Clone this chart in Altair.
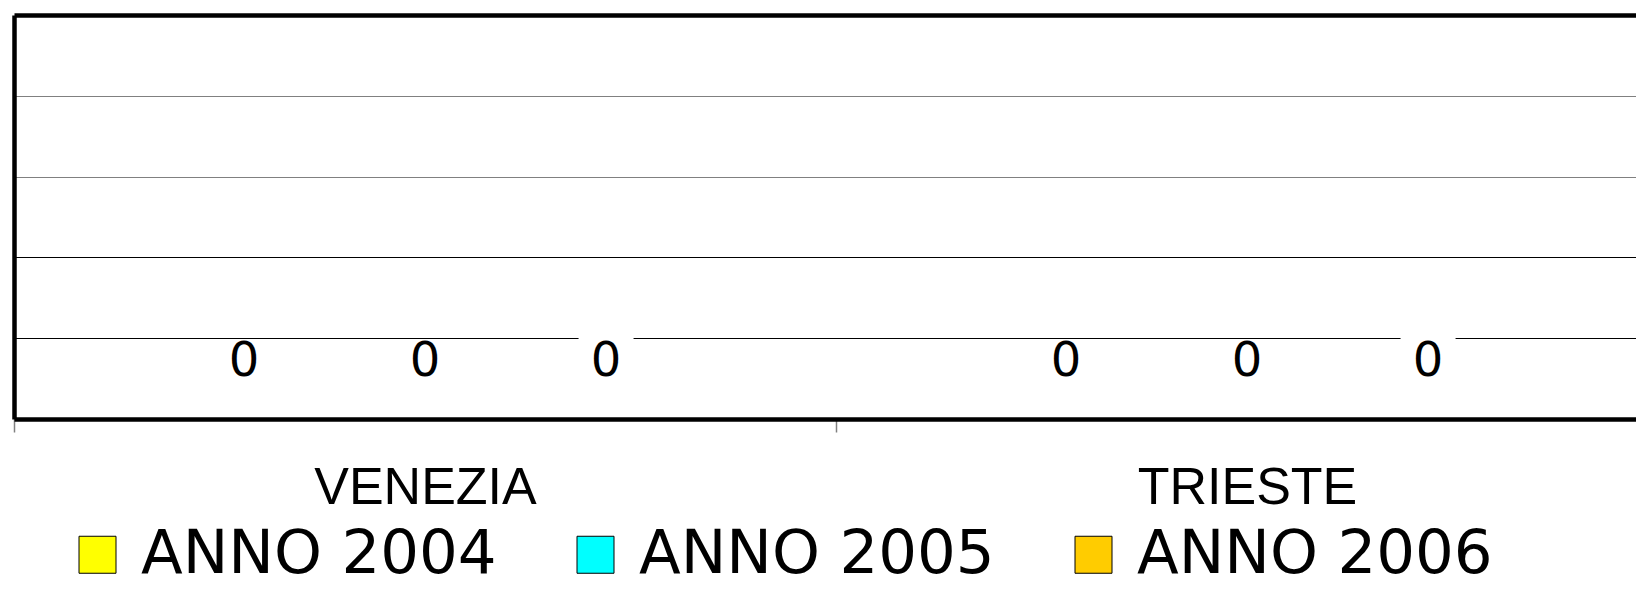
import altair as alt
import pandas as pd

cities = ["VENEZIA", "TRIESTE"]
series = ["ANNO 2004", "ANNO 2005", "ANNO 2006"]
values_venezia = [0, 0, 0]
values_trieste = [0, 0, 0]
colors = ["#FFFF00", "#00FFFF", "#FFCC00"]
y_ticks = [-1, 0, 1, 2, 3, 4]

rows = []
for city, vals in zip(cities, [values_venezia, values_trieste]):
    for s, v in zip(series, vals):
        rows.append({"city": city, "series": s, "value": v})
df = pd.DataFrame(rows)

x_enc = alt.X(
    "city:N",
    sort=cities,
    scale=alt.Scale(range=[0, 1644], paddingInner=0, paddingOuter=0),
    axis=alt.Axis(
        title=None,
        labelAngle=0,
        labelFont="Liberation Sans",
        labelFontSize=52,
        labelColor="#000000",
        labelPadding=30,
        labelLimit=1000,
        tickBand="extent",
        tickSize=13,
        tickColor="#808080",
        tickWidth=1.5,
        domainColor="#000000",
        domainWidth=4.5,
        grid=False,
    ),
)
xoff_enc = alt.XOffset(
    "series:N", sort=series, scale=alt.Scale(paddingOuter=0.77, paddingInner=0)
)
y_enc = alt.Y(
    "value:Q",
    scale=alt.Scale(domain=[-1, 4], nice=False, zero=False),
    axis=alt.Axis(
        title=None,
        values=y_ticks,
        labels=False,
        ticks=False,
        domainColor="#000000",
        domainWidth=4.5,
        grid=True,
        gridColor={
            "condition": {"test": "datum.value >= 2 && datum.value < 4", "value": "#808080"},
            "value": "#000000",
        },
        gridWidth={
            "condition": {"test": "datum.value >= 4", "value": 4.5},
            "value": 1,
        },
    ),
)

bars = alt.Chart(df).mark_bar().encode(
    x=x_enc,
    xOffset=xoff_enc,
    y=y_enc,
    color=alt.Color(
        "series:N",
        sort=series,
        scale=alt.Scale(domain=series, range=colors),
        legend=alt.Legend(
            title=None,
            orient="none",
            direction="horizontal",
            legendX=53,
            legendY=509,
            padding=0,
            labelFont="DejaVu Sans",
            labelFontSize=61,
            labelColor="#000000",
            labelLimit=1000,
            labelOffset=13,
            columnPadding=68,
            symbolType="square",
            symbolSize=1369,
            symbolStrokeColor="#000000",
            symbolStrokeWidth=1,
            symbolOpacity=1,
        ),
    ),
)

mask = (
    alt.Chart(df)
    .transform_filter(alt.datum.series == "ANNO 2006")
    .mark_tick(color="#FFFFFF", size=55, thickness=4, opacity=1)
    .encode(x=alt.X("city:N", sort=cities), xOffset=alt.XOffset("series:N", sort=series), y="value:Q")
)

labels = (
    alt.Chart(df)
    .mark_text(font="DejaVu Sans", fontSize=48, color="#000000", baseline="top", align="center", dy=0)
    .encode(
        x=alt.X("city:N", sort=cities),
        xOffset=alt.XOffset("series:N", sort=series),
        y="value:Q",
        text="value:Q",
    )
)

chart = (
    alt.layer(bars, mask, labels)
    .properties(
        width=1622,
        height=404,
        autosize=alt.AutoSizeParams(type="none"),
        padding={"left": 6, "top": 7, "right": 0, "bottom": 168},
        background="#FFFFFF",
    )
    .configure_view(strokeWidth=0)
)

chart.save("out.html", embed_options={"renderer": "svg", "actions": False})
